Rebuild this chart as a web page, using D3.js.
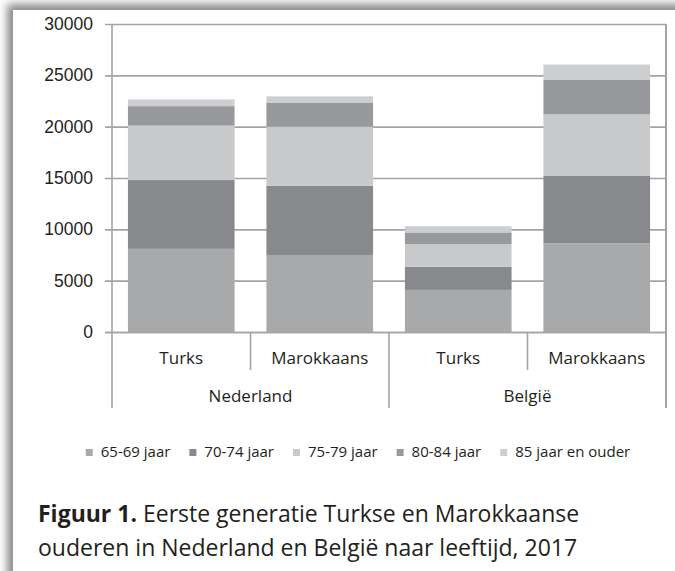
<!DOCTYPE html>
<html>
<head>
<meta charset="utf-8">
<script src="https://cdn.jsdelivr.net/npm/d3@7"></script>
<style>
  html, body { margin: 0; padding: 0; background: #fff; }
  svg { display: block; font-family: "Open Sans", sans-serif; }
  text { fill: #231f20; }
</style>
</head>
<body>
<div id="chart"></div>
<script>
// Eerste generatie Turkse en Marokkaanse ouderen, NL en BE, 2017
const categories = ['Turks', 'Marokkaans', 'Turks', 'Marokkaans'];
const groups     = ['Nederland', 'België'];
const ageKeys    = ['65-69 jaar', '70-74 jaar', '75-79 jaar', '80-84 jaar', '85 jaar en ouder'];
const age6569    = [8100, 7500, 4100, 8650];
const age7074    = [6700, 6750, 2250, 6550];
const age7579    = [5300, 5750, 2200, 6000];
const age8084    = [1900, 2350, 1150, 3350];
const age85plus  = [650, 600, 600, 1500];
const yTicks     = [0, 5000, 10000, 15000, 20000, 25000, 30000];
const caption    = ['Eerste generatie Turkse en Marokkaanse',
                    'ouderen in Nederland en België naar leeftijd, 2017'];

const colors = ['#a8a9ab', '#88898c', '#c8c9cb', '#98999c', '#cdcecf'];
const W = 675, H = 571;
const plot = { left: 112, right: 666, top: 24, bottom: 332 };

const rows = categories.map((c, i) => ({
  key: i,
  [ageKeys[0]]: age6569[i],
  [ageKeys[1]]: age7074[i],
  [ageKeys[2]]: age7579[i],
  [ageKeys[3]]: age8084[i],
  [ageKeys[4]]: age85plus[i]
}));
const series = d3.stack().keys(ageKeys)(rows);

const svg = d3.select('#chart').append('svg').attr('width', W).attr('height', H);

// kaart met schaduw
const defs = svg.append('defs');
defs.append('filter').attr('id', 'blur').attr('x', '-10%').attr('y', '-10%').attr('width', '120%').attr('height', '120%')
  .append('feGaussianBlur').attr('stdDeviation', 4);
svg.append('rect').attr('x', 7).attr('y', 4).attr('width', 720).attr('height', 620)
  .attr('fill', '#8a8a8a').attr('filter', 'url(#blur)');
svg.append('rect').attr('x', 13).attr('y', 10).attr('width', 720).attr('height', 620).attr('fill', '#fff');

const x = d3.scaleBand().domain(d3.range(categories.length))
  .range([plot.left, plot.right]).paddingInner(0.23).paddingOuter(0.115);
const y = d3.scaleLinear().domain([0, 30000]).range([plot.bottom, plot.top]);

const lineColor = '#a3a3a3';

// rasterlijnen
svg.append('g').attr('transform', `translate(105,0)`)
  .call(d3.axisRight(y).tickValues(yTicks).tickSize(plot.right - 105).tickFormat(''))
  .call(g => g.select('.domain').remove())
  .call(g => g.selectAll('line').attr('stroke', lineColor).attr('stroke-width', 1.6));

// staven
svg.append('g').selectAll('g').data(series).join('g')
  .attr('fill', (d, i) => colors[i])
  .selectAll('rect').data(d => d).join('rect')
  .attr('x', (d, i) => x(i))
  .attr('width', x.bandwidth())
  .attr('y', d => y(d[1]))
  .attr('height', d => y(d[0]) - y(d[1]));

// y-as labels
svg.append('g').attr('transform', `translate(${plot.left},0)`)
  .call(d3.axisLeft(y).tickValues(yTicks).tickSize(0).tickPadding(19).tickFormat(d3.format('d')))
  .call(g => g.select('.domain').remove())
  .call(g => g.selectAll('text').style('font-size', '17.5px').attr('fill', '#231f20'));

// kader en scheidingslijnen
const lines = svg.append('g').attr('stroke', lineColor).attr('stroke-width', 1.6);
lines.append('line').attr('x1', plot.left).attr('x2', plot.left).attr('y1', plot.top).attr('y2', 408);
lines.append('line').attr('x1', plot.right).attr('x2', plot.right).attr('y1', plot.top).attr('y2', 408).attr('stroke-width', 2);
lines.append('line').attr('x1', 105).attr('x2', plot.right).attr('y1', plot.bottom + 0.5).attr('y2', plot.bottom + 0.5);
const step = x.step();
[1, 3].forEach(i => {
  const xx = plot.left + step * i;
  lines.append('line').attr('x1', xx).attr('x2', xx).attr('y1', plot.bottom).attr('y2', 370);
});
lines.append('line').attr('x1', plot.left + step * 2).attr('x2', plot.left + step * 2).attr('y1', plot.bottom).attr('y2', 408);

// categorie labels
svg.append('g').selectAll('text').data(categories).join('text')
  .attr('x', (d, i) => x(i) + x.bandwidth() / 2)
  .attr('y', 364)
  .attr('text-anchor', 'middle')
  .style('font-size', '17px')
  .text(d => d);
svg.append('g').selectAll('text').data(groups).join('text')
  .attr('x', (d, i) => plot.left + step * (2 * i + 1))
  .attr('y', 402)
  .attr('text-anchor', 'middle')
  .style('font-size', '17px')
  .text(d => d);

// legenda
const legend = svg.append('g');
const items = legend.selectAll('g').data(ageKeys).join('g');
items.append('rect').attr('width', 7).attr('height', 7).attr('y', -8).attr('fill', (d, i) => colors[i]);
items.append('text').attr('x', 15).style('font-size', '15px').text(d => d);
let lx = 0;
items.each(function () {
  const w = this.getBBox().width;
  d3.select(this).attr('transform', `translate(${lx},457)`);
  lx += w + 19;
});
lx -= 19;
legend.attr('transform', `translate(${358 - lx / 2},0)`);

// bijschrift
const cap = svg.append('text').attr('x', 38).attr('y', 522).style('font-size', '23px');
cap.append('tspan').attr('font-weight', 'bold').text('Figuur 1.');
cap.append('tspan').text(' ' + caption[0]);
svg.append('text').attr('x', 38).attr('y', 556).style('font-size', '23px').text(caption[1]);
</script>
</body>
</html>
